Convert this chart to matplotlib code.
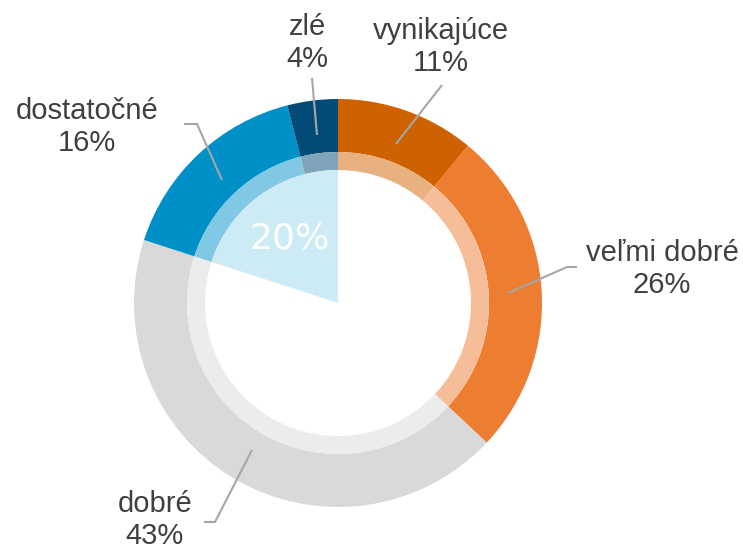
import numpy as np
import matplotlib.pyplot as plt
from matplotlib.colors import to_rgb

# data
categories = ["vynikajúce", "veľmi dobré", "dobré", "dostatočné", "zlé"]
shares = [11, 26, 43, 16, 4]
highlight = 20  # share shown as the inner wedge

colors = ["#CF6200", "#ED7D31", "#D9D9D9", "#0090C8", "#014B76"]
wedge_color = "#CCEBF5"
text_color = "#404040"
line_color = "#A6A6A6"

W, H = 743, 552
CX, CY = 338, H - 303
R_OUT, R_MID, R_IN = 204, 151, 133


def lighten(c, f=0.5):
    """Mix a colour with white"""
    r, g, b = to_rgb(c)
    return (r + (1 - r) * f, g + (1 - g) * f, b + (1 - b) * f)


fig = plt.figure(figsize=(W / 100, H / 100), dpi=100)
ax = fig.add_axes([0, 0, 1, 1])

# outer ring
ax.pie(shares, colors=colors, startangle=90, counterclock=False,
       radius=R_OUT, center=(CX, CY),
       wedgeprops=dict(width=R_OUT - R_MID, linewidth=0))
# inner pale ring
ax.pie(shares, colors=[lighten(c) for c in colors], startangle=90, counterclock=False,
       radius=R_MID, center=(CX, CY),
       wedgeprops=dict(width=R_MID - R_IN, linewidth=0))
# highlighted wedge
ax.pie([highlight, 100 - highlight], colors=[wedge_color, "none"], startangle=90,
       counterclock=True, radius=R_IN, center=(CX, CY),
       wedgeprops=dict(linewidth=0))
ang = np.deg2rad(90 + 360 * highlight / 200)
ax.text(CX + 82 * np.cos(ang), CY + 82 * np.sin(ang) - 2, f"{highlight}%",
        color="white", fontsize=26, family="DejaVu Sans", ha="center", va="center")

# labels: text centre (px, y down) and leader elbow / end (px, y down)
label_pos = {
    "vynikajúce": (441, 47),
    "veľmi dobré": (662, 269),
    "dobré": (155, 520),
    "dostatočné": (87, 127),
    "zlé": (307, 43),
}
leaders = {
    "vynikajúce": [(442, 85), (396, 144)],
    "veľmi dobré": [(577, 267), (567, 267), (508, 293)],
    "dobré": [(204, 522), (215, 522), (252, 450)],
    "dostatočné": [(184, 124), (197, 124), (222, 180)],
    "zlé": [(312, 78), (317, 135)],
}

for name, val in zip(categories, shares):
    x, y = label_pos[name]
    ax.text(x, H - y, f"{name}\n{val}%", color=text_color, fontsize=21,
            family="Liberation Sans", ha="center", va="center", linespacing=1.15)
    pts = np.array(leaders[name], dtype=float)
    ax.plot(pts[:, 0], H - pts[:, 1], color=line_color, lw=1.5, solid_capstyle="butt")

ax.set_xlim(0, W)
ax.set_ylim(0, H)
ax.set_aspect("equal")
ax.axis("off")
fig.savefig("out.png", dpi=100, facecolor="white")
